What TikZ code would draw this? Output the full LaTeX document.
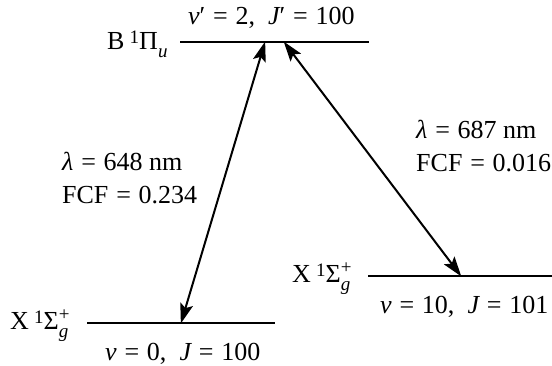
\documentclass[tikz,border=0pt]{standalone}
\usepackage{fontspec}
\setmainfont{Liberation Serif}
\usetikzlibrary{arrows.meta}
\newcommand\smallsz{\fontsize{19}{19}\selectfont}
\newcommand\bigsz{\fontsize{26}{30}\selectfont}
\newcommand\supsubx[2]{\makebox[0pt][l]{\raisebox{0.36em}{\smallsz #1}}\raisebox{-0.3em}{\smallsz\itshape #2}}
\newcommand\eqs{\hspace{0.3em}=\hspace{0.3em}}
\begin{document}
\begin{tikzpicture}[x=1pt,y=-1pt,
  txt/.style={font=\bigsz, inner sep=0pt, anchor=base west},
  level/.style={line width=2.4pt},
  trans/.style={line width=2pt, {Stealth[length=20pt,width=13pt,inset=4pt]}-{Stealth[length=20pt,width=13pt,inset=4pt]}, shorten <=-0.5pt, shorten >=-0.5pt}]
\useasboundingbox (0,0) rectangle (552,366);
% levels
\coordinate (BL) at (180,42);  \coordinate (BR) at (369,42);
\coordinate (XLl) at (87,323); \coordinate (XLr) at (275,323);
\coordinate (XRl) at (368,276); \coordinate (XRr) at (552,276);
\draw[level] (BL) -- (BR);
\draw[level] (XLl) -- (XLr);
\draw[level] (XRl) -- (XRr);
% transition end points
\coordinate (t1) at (265,42); \coordinate (b1) at (181,323);
\coordinate (t2) at (284,42); \coordinate (b2) at (461,276);
\draw[trans] (b1) -- (t1);
\draw[trans] (t2) -- (b2);
% labels
\node[txt] (Blab) at (107,50) {B\hspace{0.2em}\smallsz\raisebox{0.36em}{1}\bigsz Π\supsubx{}{u}};
\node[txt] (Bnum) at (188,25) {{\itshape v}′\eqs 2,\enspace{\itshape J}′\eqs 100};
\node[txt] (XLlab) at (10,330) {X\hspace{0.2em}\smallsz\raisebox{0.36em}{1}\bigsz Σ\supsubx{+}{g}};
\node[txt] (XLnum) at (105,360) {{\itshape v}\eqs 0,\enspace{\itshape J}\eqs 100};
\node[txt] (XRlab) at (292,283) {X\hspace{0.2em}\smallsz\raisebox{0.36em}{1}\bigsz Σ\supsubx{+}{g}};
\node[txt] (XRnum) at (380,313) {{\itshape v}\eqs 10,\enspace{\itshape J}\eqs 101};
\node[txt] (lam1) at (62,171) {{\itshape λ}\eqs 648 nm};
\node[txt] (fcf1) at (62,204) {FCF\eqs 0.234};
\node[txt] (lam2) at (416,139) {{\itshape λ}\eqs 687 nm};
\node[txt] (fcf2) at (416,172) {FCF\eqs 0.016};
\end{tikzpicture}
\end{document}
